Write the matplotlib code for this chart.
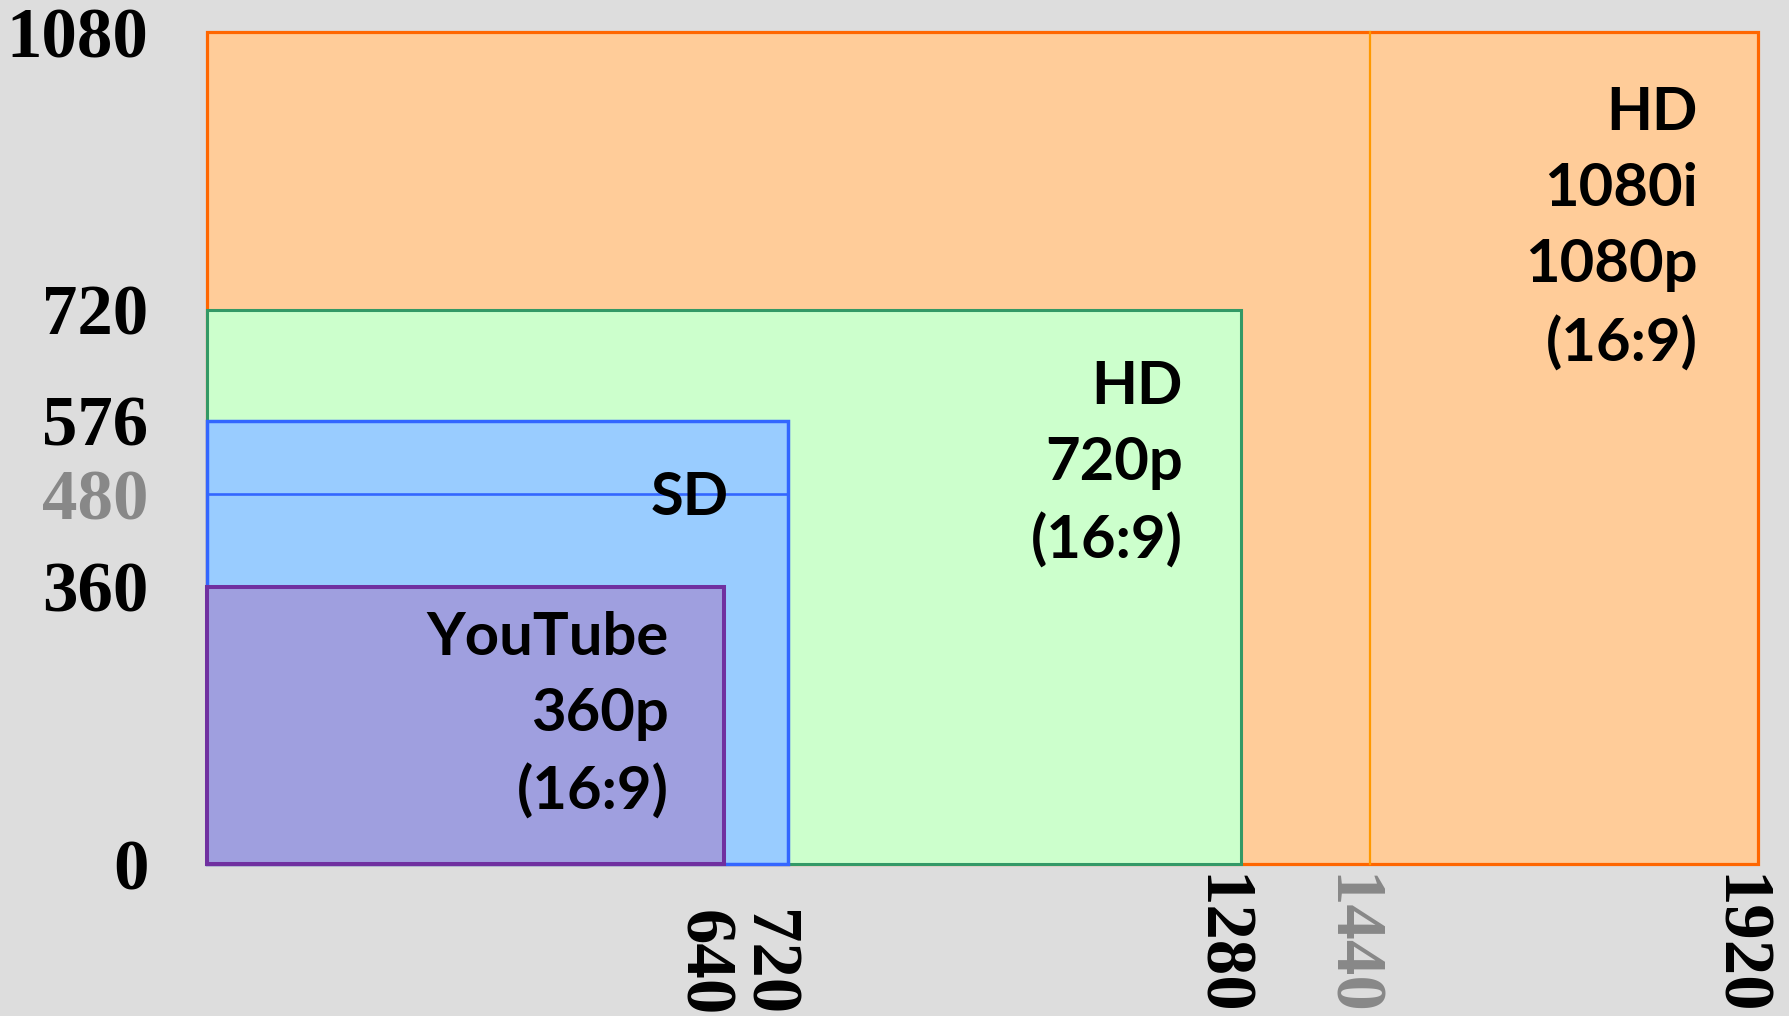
import matplotlib
matplotlib.use("Agg")
import matplotlib.pyplot as plt
from matplotlib.patches import Rectangle
import matplotlib.transforms as mtransforms

# ---- data ----
box_names = ["HD 1080", "HD 720", "SD", "YouTube"]
box_widths = [1920, 1280, 720, 640]
box_heights = [1080, 720, 576, 360]
box_labels = ["HD\n1080i\n1080p\n(16:9)", "HD\n720p\n(16:9)", "SD", "YouTube\n360p\n(16:9)"]
extra_vline_x = 1440      # 1440x1080 anamorphic
extra_hline_y = 480       # 480 lines SD
y_ticks = [0, 360, 480, 576, 720, 1080]
y_tick_gray = [False, False, True, False, False, False]
x_ticks = [640, 720, 1280, 1440, 1920]
x_tick_gray = [False, False, False, True, False]

# ---- styles ----
fills = ["#ffcc99", "#ccffcc", "#99ccff", "#9f9fdf"]
edges = ["#ff6600", "#339966", "#3366ff", "#7030a0"]
lws = [2.3, 2.2, 2.5, 2.9]
label_offsets = [(-60, -54), (-58, -50), (-60, -50), (-55, -24)]
bg = "#dddddd"
gray = "#888888"

W, H = 1789, 1016
fig = plt.figure(figsize=(W / 100, H / 100), dpi=100, facecolor=bg)
ax = fig.add_axes([206.5 / W, 1 - 864 / H, (1758 - 206.5) / W, (864 - 32.5) / H])
ax.set_xlim(0, 1920)
ax.set_ylim(0, 1080)
ax.axis("off")
ax.set_facecolor(bg)

label_font = dict(family=["Lato", "DejaVu Sans"], weight="bold", size=43)
tick_font = dict(family=["Liberation Serif", "DejaVu Serif"], weight="bold", size=51)

z = 1
for i, (w, h) in enumerate(zip(box_widths, box_heights)):
    ax.add_patch(Rectangle((0, 0), w, h, facecolor=fills[i], edgecolor=edges[i],
                           lw=lws[i], zorder=z, clip_on=False, joinstyle="miter"))
    if i == 0:
        ax.plot([extra_vline_x, extra_vline_x], [0, 1080], color="#ff9900", lw=1.6,
                zorder=z + 0.5, clip_on=False)
    if i == 2:
        ax.plot([0, 720], [extra_hline_y, extra_hline_y], color="#3366ff", lw=1.9,
                zorder=z + 0.5, clip_on=False)
    ax.annotate(box_labels[i], xy=(w, h), xytext=label_offsets[i], textcoords="offset pixels",
                ha="right", va="top", multialignment="right", linespacing=1.5,
                zorder=z + 0.7, **label_font)
    z += 1

# y tick labels
for v, g in zip(y_ticks, y_tick_gray):
    ax.text(0, v, str(v), transform=mtransforms.offset_copy(ax.transData, fig=fig, x=-58, y=0, units="dots"),
            ha="right", va="center_baseline", color=gray if g else "black", **tick_font)

# x tick labels (rotated, bottom aligned)
blend = mtransforms.blended_transform_factory(ax.transData, fig.transFigure)
for v, g in zip(x_ticks, x_tick_gray):
    tr = mtransforms.offset_copy(blend, fig=fig, x=-22, y=0, units="dots")
    ax.text(v, 0.0, str(v), transform=tr, rotation=-90, ha="center", va="bottom",
            color=gray if g else "black", **tick_font)

fig.savefig("out.png", dpi=100, facecolor=bg)
